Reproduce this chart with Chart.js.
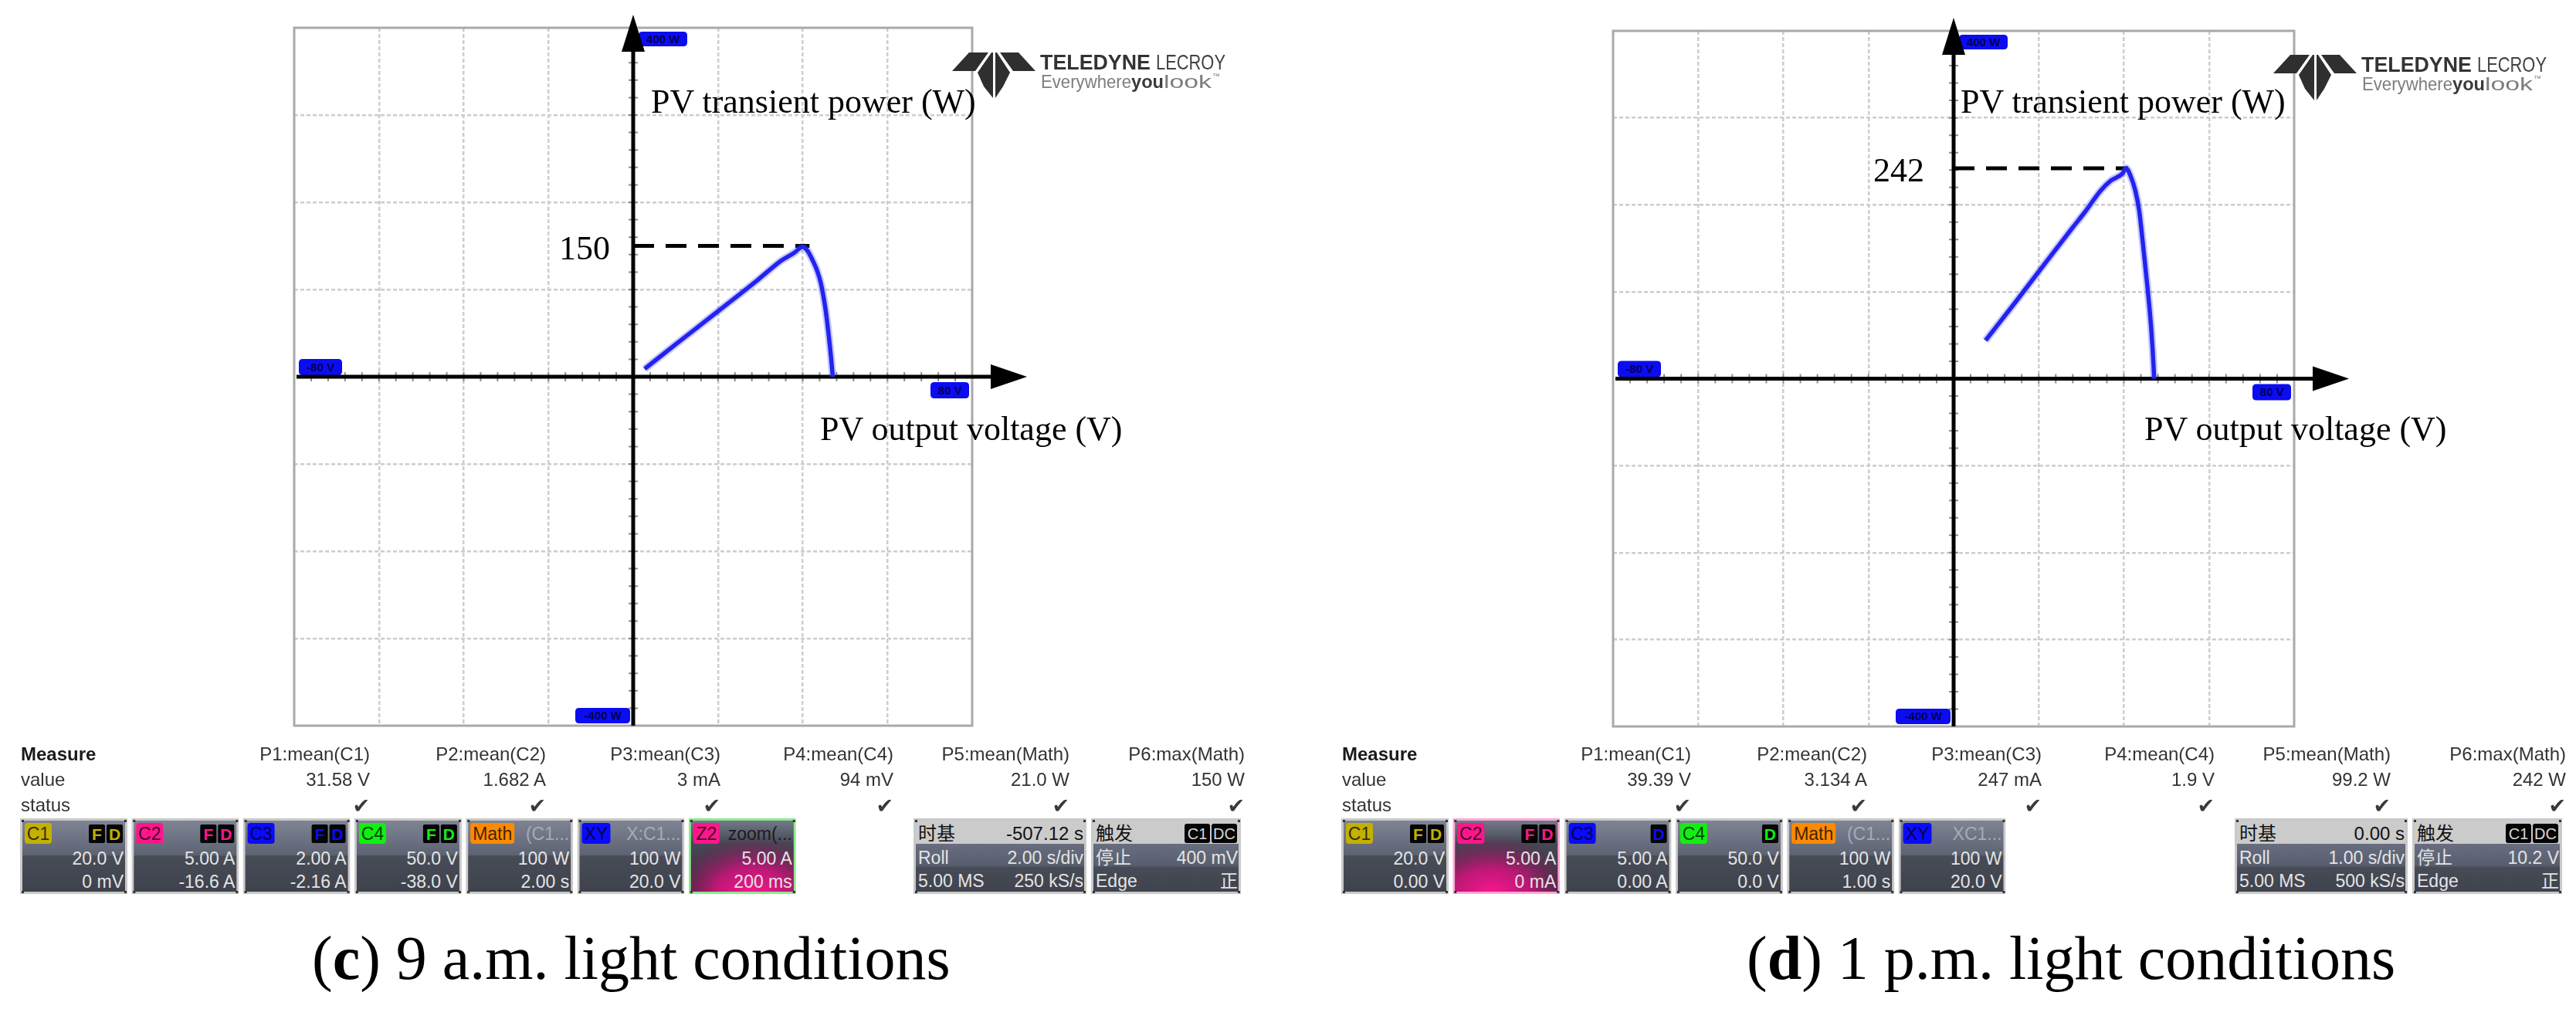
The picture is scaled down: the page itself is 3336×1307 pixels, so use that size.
<!DOCTYPE html>
<html><head><meta charset="utf-8">
<script src="https://cdn.jsdelivr.net/npm/chart.js@4.4.1/dist/chart.umd.min.js"></script>
<style>
html,body{margin:0;padding:0;background:#fff;width:3336px;height:1307px;overflow:hidden;}
canvas{position:absolute;}
#ov{position:absolute;left:0;top:0;pointer-events:none;}
</style></head><body>
<canvas id="cC"></canvas><canvas id="cD"></canvas>
<svg id="ov" width="3336" height="1307" xmlns="http://www.w3.org/2000/svg"></svg>
<script>
// ---------------- DATA ----------------
const voltTicks  = [-80, -60, -40, -20, 0, 20, 40, 60, 80];
const powerTicks = [-400, -300, -200, -100, 0, 100, 200, 300, 400];
const voltUnit = 'V', powerUnit = 'W';

// (c) 9 a.m.
const voltsC = [2.7, 10, 20, 29.4, 34.9, 38, 40.0, 41.2, 42.2, 43.3, 44.3, 45.4, 46.2, 46.7, 47.1];
const powerC = [9, 37, 75, 111, 133, 142, 149, 144, 135, 123, 107, 77, 45, 22, 0];
const peakPowerC = 150, peakVoltC = 41.6;
// (d) 1 p.m.
const voltsD = [7.5, 15, 22, 28, 30.9, 34.5, 37, 39.7, 40.5, 41.5, 42.7, 43.6, 44.5, 45.5, 46.4, 47.0, 47.1];
const powerD = [44, 91, 136, 174, 192, 216, 228, 236, 242, 234, 216, 193, 154, 107, 59, 12, 0];
const peakPowerD = 242, peakVoltD = 41;

const yAxisTitle = 'PV transient power (W)';
const xAxisTitle = 'PV output voltage (V)';
const captionC = ['c', ' 9 a.m. light conditions'];
const captionD = ['d', ' 1 p.m. light conditions'];

const measureNames   = ['P1:mean(C1)', 'P2:mean(C2)', 'P3:mean(C3)', 'P4:mean(C4)', 'P5:mean(Math)', 'P6:max(Math)'];
const measureValuesC = ['31.58 V', '1.682 A', '3 mA', '94 mV', '21.0 W', '150 W'];
const measureValuesD = ['39.39 V', '3.134 A', '247 mA', '1.9 V', '99.2 W', '242 W'];

const chanLabelsC = ['C1', 'C2', 'C3', 'C4', 'Math', 'XY', 'Z2'];
const chanInfoC   = ['FD', 'FD', 'FD', 'FD', '(C1...', 'X:C1...', 'zoom(...'];
const chanScaleC  = ['20.0 V', '5.00 A', '2.00 A', '50.0 V', '100 W', '100 W', '5.00 A'];
const chanOffsetC = ['0 mV', '-16.6 A', '-2.16 A', '-38.0 V', '2.00 s', '20.0 V', '200 ms'];
const timebaseC   = ['时基', '-507.12 s', 'Roll', '2.00 s/div', '5.00 MS', '250 kS/s'];
const triggerC    = ['触发', 'C1', 'DC', '停止', '400 mV', 'Edge', '正'];

const chanLabelsD = ['C1', 'C2', 'C3', 'C4', 'Math', 'XY'];
const chanInfoD   = ['FD', 'FD', 'D', 'D', '(C1...', 'XC1...'];
const chanScaleD  = ['20.0 V', '5.00 A', '5.00 A', '50.0 V', '100 W', '100 W'];
const chanOffsetD = ['0.00 V', '0 mA', '0.00 A', '0.0 V', '1.00 s', '20.0 V'];
const timebaseD   = ['时基', '0.00 s', 'Roll', '1.00 s/div', '5.00 MS', '500 kS/s'];
const triggerD    = ['触发', 'C1', 'DC', '停止', '10.2 V', 'Edge', '正'];

// ---------------- STYLE / LAYOUT ----------------
const chanColor = {C1:'#c4b000', C2:'#ff168c', C3:'#0a0aff', C4:'#10f010', Math:'#ff8a00', XY:'#0a0aff', Z2:'#ff168c'};
const badgeW = {C1:35, C2:35, C3:35, C4:35, Math:57, XY:37, Z2:34};

const plotC = {left:381, right:1259, top:36, bottom:940};
const plotD = {left:2089, right:2971, top:40, bottom:941};

// ---------------- CHART.JS ----------------
function fmtTag(v, u){ return v + ' ' + u; }
function drawTag(ctx, x, y, w, h, text){
  const r = 5;
  ctx.beginPath();
  ctx.moveTo(x+r, y); ctx.lineTo(x+w-r, y); ctx.quadraticCurveTo(x+w, y, x+w, y+r);
  ctx.lineTo(x+w, y+h-r); ctx.quadraticCurveTo(x+w, y+h, x+w-r, y+h);
  ctx.lineTo(x+r, y+h); ctx.quadraticCurveTo(x, y+h, x, y+h-r);
  ctx.lineTo(x, y+r); ctx.quadraticCurveTo(x, y, x+r, y); ctx.closePath();
  ctx.fillStyle = '#0c0cf2'; ctx.fill();
  ctx.fillStyle = '#00004a'; ctx.font = 'bold 15px "Liberation Sans", Arial, sans-serif';
  ctx.textAlign = 'center'; ctx.textBaseline = 'middle';
  ctx.fillText(text, x + w/2, y + h/2 + 1);
}
const scopeDecor = {
  id: 'scopeDecor',
  beforeDatasetsDraw(chart){
    const {ctx, chartArea:a, scales:{x, y}} = chart;
    const x0 = x.getPixelForValue(0), y0 = y.getPixelForValue(0);
    const xMin = voltTicks[0], xMax = voltTicks[voltTicks.length-1];
    const yMin = powerTicks[0], yMax = powerTicks[powerTicks.length-1];
    ctx.save();
    ctx.strokeStyle = '#a9a9a9'; ctx.lineWidth = 3;
    ctx.strokeRect(a.left, a.top, a.right - a.left, a.bottom - a.top);
    const divX = x.getPixelForValue(voltTicks[1]) - x.getPixelForValue(voltTicks[0]);
    const divY = y.getPixelForValue(powerTicks[0]) - y.getPixelForValue(powerTicks[1]);
    ctx.strokeStyle = '#8d8d8d'; ctx.lineWidth = 2; ctx.beginPath();
    for (let i = 1; i < (voltTicks.length-1)*5; i++){ const px = a.left + i*divX/5; ctx.moveTo(px, y0-6); ctx.lineTo(px, y0+6); }
    for (let i = 1; i < (powerTicks.length-1)*5; i++){ const py = a.top + i*divY/5; ctx.moveTo(x0-6, py); ctx.lineTo(x0+6, py); }
    ctx.stroke();
    drawTag(ctx, x0+7, a.top+5, 63, 19, fmtTag(yMax, powerUnit));
    drawTag(ctx, a.left+6, y0-23, 56, 21, fmtTag(xMin, voltUnit));
    drawTag(ctx, a.right-54, y0+7, 50, 21, fmtTag(xMax, voltUnit));
    drawTag(ctx, x0-75, a.bottom-23, 71, 20, fmtTag(yMin, powerUnit));
    ctx.fillStyle = '#000'; ctx.strokeStyle = '#000'; ctx.lineWidth = 5;
    const tipY = a.top - 17, tipX = a.right + 71;
    ctx.beginPath(); ctx.moveTo(x0, a.bottom); ctx.lineTo(x0, tipY + 40); ctx.stroke();
    ctx.beginPath(); ctx.moveTo(x0, tipY); ctx.lineTo(x0-15, tipY+48); ctx.lineTo(x0+15, tipY+48); ctx.closePath(); ctx.fill();
    ctx.beginPath(); ctx.moveTo(a.left+3, y0); ctx.lineTo(tipX-40, y0); ctx.stroke();
    ctx.beginPath(); ctx.moveTo(tipX, y0); ctx.lineTo(tipX-47, y0-16); ctx.lineTo(tipX-47, y0+16); ctx.closePath(); ctx.fill();
    ctx.restore();
  }
};

function gridColor(min, max){
  return c => {
    const v = c.tick ? c.tick.value : null;
    return (v === 0 || v === min || v === max) ? 'rgba(0,0,0,0)' : '#cdcdcd';
  };
}

function makeChart(id, plot, volts, power, peakV, peakP){
  const padL = 40, padR = 100, H = 960;
  const W = plot.right - plot.left + padL + padR;
  const cv = document.getElementById(id);
  cv.width = W; cv.height = H;
  cv.style.width = W + 'px'; cv.style.height = H + 'px';
  cv.style.left = (plot.left - padL) + 'px'; cv.style.top = '0px';
  const pts = volts.map((v, i) => ({x: v, y: power[i]}));
  const xMin = voltTicks[0], xMax = voltTicks[voltTicks.length-1];
  const yMin = powerTicks[0], yMax = powerTicks[powerTicks.length-1];
  return new Chart(cv, {
    type: 'scatter',
    data: { datasets: [
      { data: pts, showLine: true, borderColor: 'rgba(60,60,255,0.28)', borderWidth: 10, pointRadius: 0, cubicInterpolationMode: 'monotone' },
      { data: pts, showLine: true, borderColor: '#1a1ae8', borderWidth: 5.5, pointRadius: 0, cubicInterpolationMode: 'monotone' },
      { data: [{x: 0, y: peakP}, {x: peakV, y: peakP}], showLine: true, borderColor: '#000', borderWidth: 5, borderDash: [27, 15], pointRadius: 0 }
    ]},
    options: {
      responsive: false, animation: false, devicePixelRatio: 1,
      layout: { padding: { left: padL, right: padR, top: plot.top, bottom: H - plot.bottom } },
      plugins: { legend: {display: false}, tooltip: {enabled: false} },
      scales: {
        x: { type: 'linear', position: 'bottom', min: xMin, max: xMax,
             ticks: { display: false, stepSize: voltTicks[1] - voltTicks[0] },
             grid: { color: gridColor(xMin, xMax), lineWidth: 2.5, drawTicks: false },
             border: { display: false, dash: [5, 3] },
             afterFit: s => { s.height = 0; } },
        y: { type: 'linear', position: 'left', min: yMin, max: yMax,
             ticks: { display: false, stepSize: powerTicks[1] - powerTicks[0] },
             grid: { color: gridColor(yMin, yMax), lineWidth: 2.5, drawTicks: false },
             border: { display: false, dash: [5, 3] },
             afterFit: s => { s.width = 0; } }
      }
    },
    plugins: [scopeDecor]
  });
}

const chartC = makeChart('cC', plotC, voltsC, powerC, peakVoltC, peakPowerC);
const chartD = makeChart('cD', plotD, voltsD, powerD, peakVoltD, peakPowerD);

// ---------------- SVG OVERLAY (text & scope panels) ----------------
const NS = 'http://www.w3.org/2000/svg';
const svg = document.getElementById('ov');
function el(tag, attrs, parent){ const e = document.createElementNS(NS, tag); for (const k in attrs) e.setAttribute(k, attrs[k]); (parent || svg).appendChild(e); return e; }
const SANS = '"Liberation Sans", Arial, sans-serif';
const SERIF = '"Liberation Serif", "Times New Roman", serif';
const CJK = '"Noto Sans CJK SC", sans-serif';
function txt(x, y, s, attrs, parent){
  const t = el('text', Object.assign({x, y, 'font-family': SANS, 'font-size': 24, fill: '#222'}, attrs || {}), parent);
  t.textContent = s; return t;
}
const defs = el('defs', {});
function lin(id, stops){ const g = el('linearGradient', {id, x1:0, y1:0, x2:0, y2:1}, defs); stops.forEach(s => el('stop', {offset:s[0], 'stop-color':s[1], 'stop-opacity': s[2] === undefined ? 1 : s[2]}, g)); }
function rad(id, cx, stops){ const g = el('radialGradient', {id, cx, cy:1.05, r:0.85}, defs); stops.forEach(s => el('stop', {offset:s[0], 'stop-color':s[1], 'stop-opacity': s[2] === undefined ? 1 : s[2]}, g)); }
lin('boxGrad', [[0,'#7e8494'],[0.48,'#5d6372'],[0.5,'#484c57'],[1,'#3e424c']]);
lin('tbGrad',  [[0,'#686e7f'],[0.45,'#585e6e'],[0.5,'#474b56'],[1,'#3f434d']]);
lin('hiBase',  [[0,'#737989'],[0.32,'#454954'],[1,'#32343d']]);
rad('pinkZ', 0.6, [[0,'#ff1690',1],[0.45,'#d4127e',0.85],[1,'#7a0e52',0]]);
rad('pinkC', 0.35, [[0,'#ff1690',1],[0.45,'#d4127e',0.85],[1,'#7a0e52',0]]);

let uid = 0;
function chanBox(x, y, w, h, label, info, sc, off, hi){
  const cid = 'clp' + (uid++);
  const cp = el('clipPath', {id: cid}, defs); el('rect', {x, y, width: w, height: h}, cp);
  const g = el('g', {'clip-path': `url(#${cid})`});
  const bcol = !hi ? '#c9c9c9' : (label === 'Z2' ? '#8ee98e' : '#ffa8d4');
  el('rect', {x, y, width: w, height: h, fill: bcol}, g);
  el('rect', {x: x+3, y: y+3, width: w-6, height: h-6, fill: hi ? 'url(#hiBase)' : 'url(#boxGrad)'}, g);
  if (hi) el('rect', {x: x+3, y: y+3, width: w-6, height: h-6, fill: label === 'Z2' ? 'url(#pinkZ)' : 'url(#pinkC)'}, g);
  [[x+2,y+2],[x+w-4,y+2],[x+2,y+h-4],[x+w-4,y+h-4]].forEach(p => el('rect', {x:p[0], y:p[1], width:3, height:3, fill:'#333'}, g));
  const bw = badgeW[label] || 35;
  el('rect', {x: x+6, y: y+6, width: bw, height: 27, rx: 4, fill: chanColor[label]}, g);
  txt(x+6+bw/2, y+28, label, {'text-anchor':'middle', fill:'rgba(0,0,0,0.75)', 'font-size':23}, g);
  if (/^F?D$/.test(info)){
    const letters = info.split('').reverse();
    letters.forEach((L, i) => {
      const rx = x + w - 27 - i*23;
      el('rect', {x: rx, y: y+8, width: 21, height: 24, rx: 2, fill: '#050505'}, g);
      txt(rx+10.5, y+28, L, {'text-anchor':'middle', 'font-size':21, 'font-weight':'bold', fill: chanColor[label]}, g);
    });
  } else {
    txt(x+w-5, y+28, info, {'text-anchor':'end', 'font-size':23, fill: label === 'Z2' ? '#1b1b1b' : '#a6acb6'}, g);
  }
  txt(x+w-5, y+60, sc, {'text-anchor':'end', 'font-size':23, fill:'#e4e4e4'}, g);
  txt(x+w-5, y+90, off, {'text-anchor':'end', 'font-size':23, fill:'#e4e4e4'}, g);
}
function infoBox(x, y, w, h, head, headRight, rows, badges){
  const cid = 'clp' + (uid++);
  const cp = el('clipPath', {id: cid}, defs); el('rect', {x, y, width: w, height: h}, cp);
  const g = el('g', {'clip-path': `url(#${cid})`});
  el('rect', {x, y, width: w, height: h, fill: '#c9c9c9'}, g);
  el('rect', {x: x+3, y: y+33, width: w-6, height: h-36, fill: 'url(#tbGrad)'}, g);
  el('rect', {x: x+3, y: y+3, width: w-6, height: 30, fill: '#cbcbcb'}, g);
  [[x+2,y+2],[x+w-4,y+2],[x+2,y+h-4],[x+w-4,y+h-4]].forEach(p => el('rect', {x:p[0], y:p[1], width:3, height:3, fill:'#333'}, g));
  txt(x+6, y+28, head, {'font-family': CJK, 'font-size':24, fill:'#111'}, g);
  if (badges){
    badges.forEach((b, i) => {
      const bx = x + w - 38 - (badges.length-1-i)*35;
      el('rect', {x: bx, y: y+7, width: 33, height: 25, rx: 3, fill: '#050505'}, g);
      txt(bx+16.5, y+27, b, {'text-anchor':'middle', 'font-size':20, fill:'#d8d8d8'}, g);
    });
  } else {
    txt(x+w-4, y+28, headRight, {'text-anchor':'end', 'font-size':24, fill:'#111'}, g);
  }
  rows.forEach((r, i) => {
    const by = y + 59 + i*30;
    const isCjk = /[\u4e00-\u9fff]/;
    txt(x+6, by, r[0], {'font-size':23, fill:'#e4e4e4', 'font-family': isCjk.test(r[0]) ? CJK : SANS}, g);
    txt(x+w-4, by, r[1], {'text-anchor':'end', 'font-size':23, fill:'#e4e4e4', 'font-family': isCjk.test(r[1]) ? CJK : SANS}, g);
  });
}

function buildPanel(dx, chart, plot, L, vals, labels, infos, scs, offs, tb, tr, hiLabel, caption, logoDy){
  const {scales:{x, y}} = chart;
  const canvasLeft = plot.left - 40;
  const x0 = canvasLeft + x.getPixelForValue(0);
  const peak = chart.data.datasets[2].data[0].y;
  txt(L.powerX, 146, yAxisTitle, {'font-family': SERIF, 'font-size':44, fill:'#000'});
  txt(x0 - L.peakGap, y.getPixelForValue(peak) + 17, String(peak), {'font-family': SERIF, 'font-size':44, fill:'#000', 'text-anchor':'end'});
  txt(L.voltX, 570, xAxisTitle, {'font-family': SERIF, 'font-size':44, fill:'#000'});
  // logo
  const g = el('g', {transform: `translate(${1233+dx},${68+logoDy})`});
  ['0,24 22,0 47,0 30,24', '51,0 53,0 53,59 41,44 33,26', '56,0 58,0 75,26 66,44 56,59', '62,0 86,0 108,24 79,24']
    .forEach(p => el('polygon', {points: p, fill: '#2f2f2f'}, g));
  txt(114, 22, 'TELEDYNE', {'font-size':28, 'font-weight':'bold', fill:'#333', textLength:143, lengthAdjust:'spacingAndGlyphs'}, g);
  txt(264, 22, 'LECROY', {'font-size':28, fill:'#444', textLength:90, lengthAdjust:'spacingAndGlyphs'}, g);
  txt(115, 46, 'Everywhere', {'font-size':24, fill:'#7d7d7d', textLength:117, lengthAdjust:'spacingAndGlyphs'}, g);
  txt(232, 46, 'you', {'font-size':24, 'font-weight':'bold', fill:'#3a3a3a', textLength:42, lengthAdjust:'spacingAndGlyphs'}, g);
  txt(274, 46, 'look', {'font-size':24, fill:'#7d7d7d', textLength:62, lengthAdjust:'spacingAndGlyphs'}, g);
  txt(337, 34, '™', {'font-size':10, fill:'#7d7d7d'}, g);
  // measure table
  const rowY = [985, 1018, 1051];
  const colRight = [479, 707, 933, 1157, 1385, 1612];
  txt(27+dx, rowY[0], 'Measure', {'font-weight':'bold', fill:'#1a1a1a'});
  txt(27+dx, rowY[1], 'value', {fill:'#333'});
  txt(27+dx, rowY[2], 'status', {fill:'#333'});
  measureNames.forEach((n, i) => {
    txt(colRight[i]+dx, rowY[0], n, {'text-anchor':'end', fill:'#333'});
    txt(colRight[i]+dx, rowY[1], vals[i], {'text-anchor':'end', fill:'#333'});
    txt(colRight[i]+dx, rowY[2]+2, '✔', {'text-anchor':'end', 'font-family':'"DejaVu Sans", sans-serif', 'font-size':27, fill:'#3a3a3a'});
  });
  labels.forEach((lab, i) => chanBox(26 + dx + i*144.3, 1060, 139, 98, lab, infos[i], scs[i], offs[i], lab === hiLabel));
  infoBox(1183+dx, 1060, 224, 98, tb[0], tb[1], [[tb[2], tb[3]], [tb[4], tb[5]]], null);
  infoBox(1413+dx, 1060, 194, 98, tr[0], null, [[tr[3], tr[4]], [tr[5], tr[6]]], [tr[1], tr[2]]);
  const cap = el('text', {x: L.capX, y: 1268, 'font-family': SERIF, 'font-size': 80, fill: '#000'});
  const t1 = el('tspan', {}, cap); t1.textContent = '(';
  const t2 = el('tspan', {'font-weight':'bold'}, cap); t2.textContent = caption[0];
  const t3 = el('tspan', {}, cap); t3.textContent = ')' + caption[1];
}

buildPanel(0, chartC, plotC, {powerX:843, peakGap:30, voltX:1062, capX:404},
  measureValuesC, chanLabelsC, chanInfoC, chanScaleC, chanOffsetC, timebaseC, triggerC, 'Z2', captionC, 0);
buildPanel(1711, chartD, plotD, {powerX:2539, peakGap:38, voltX:2777, capX:2262},
  measureValuesD, chanLabelsD, chanInfoD, chanScaleD, chanOffsetD, timebaseD, triggerD, 'C2', captionD, 3);
</script>
</body></html>
